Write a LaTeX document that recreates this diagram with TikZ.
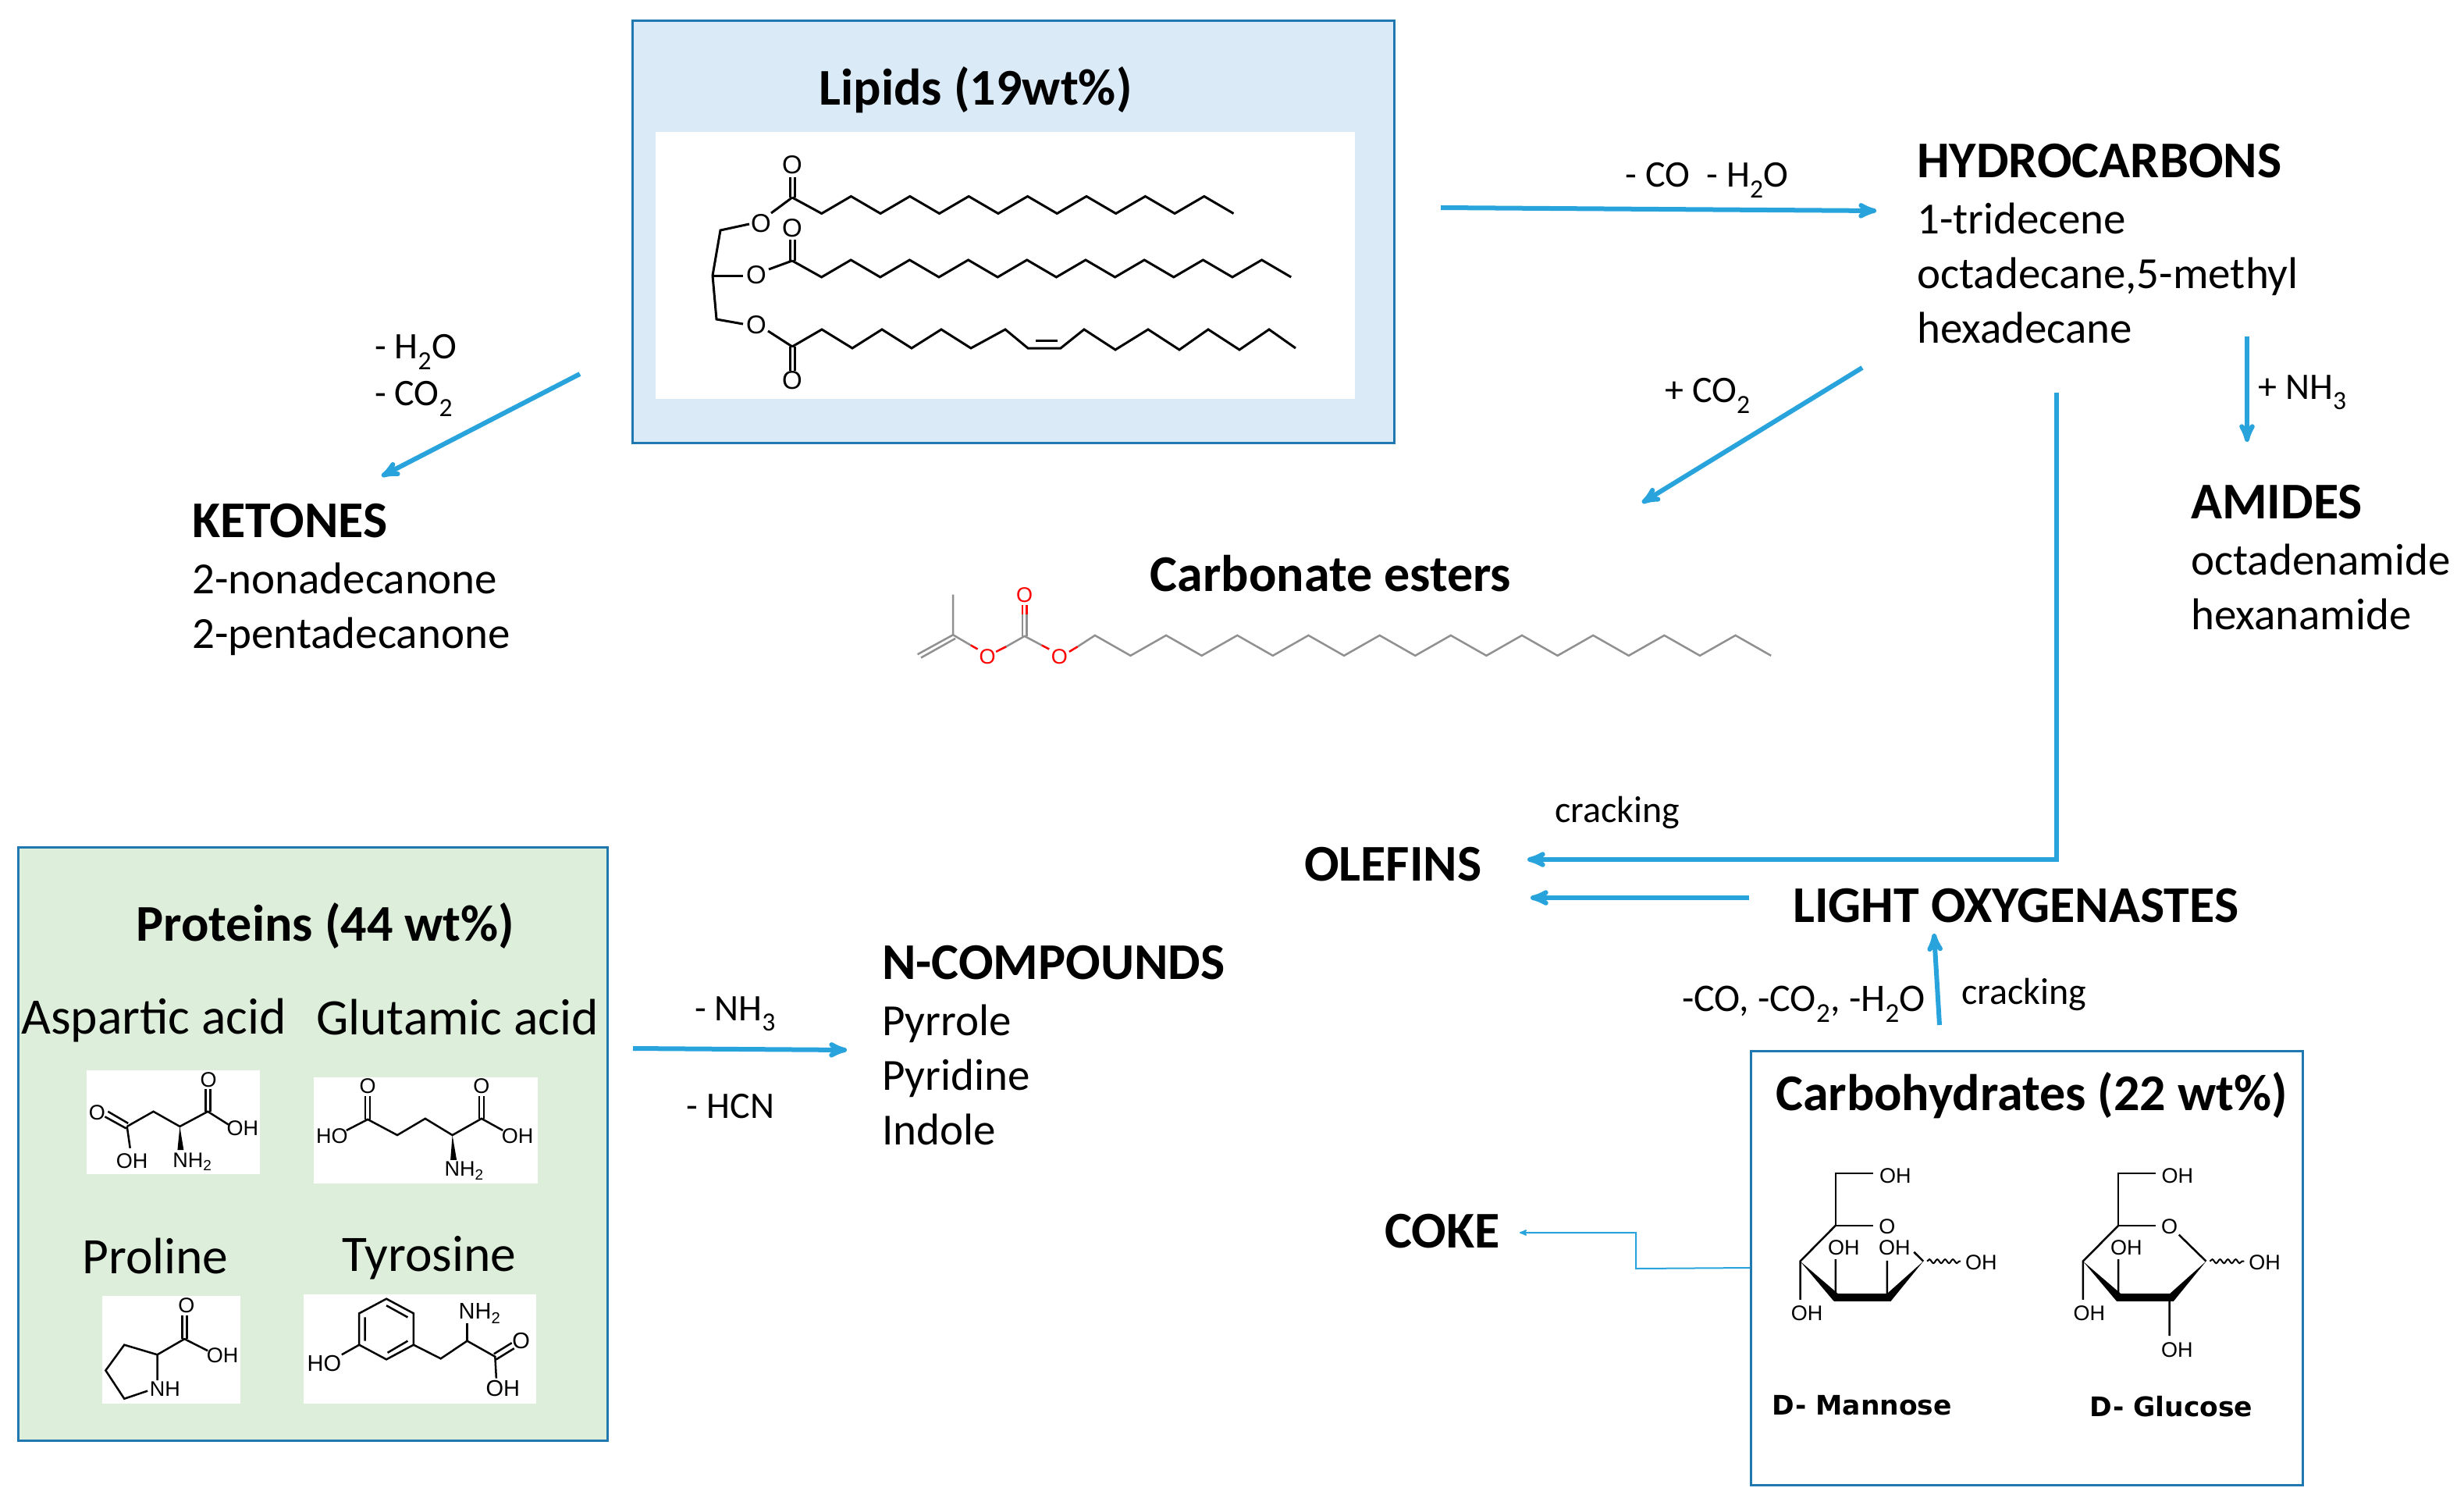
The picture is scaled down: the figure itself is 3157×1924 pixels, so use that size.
\documentclass[tikz,border=0pt]{standalone}
\usepackage{fontspec}
\setmainfont{Carlito}
\newfontfamily\atomfamily{Liberation Sans}
\newfontfamily\sugarfamily{DejaVu Sans}
\usetikzlibrary{arrows,calc,positioning,decorations.pathmorphing}
\definecolor{arrowblue}{HTML}{29A3DC}
\definecolor{boxblue}{HTML}{1F78B0}
\definecolor{lipidfill}{HTML}{DAEAF7}
\definecolor{proteinfill}{HTML}{DDEFDB}
\definecolor{estergray}{HTML}{909090}
\tikzset{
>=stealth',
flow/.style={draw=arrowblue, line width=6pt, ->},
thinflow/.style={draw=arrowblue, line width=2pt, ->},
feedbox/.style={draw=boxblue, line width=3pt, inner sep=0pt},
panel/.style={fill=white, inner sep=0pt},
compound/.style={align=left, anchor=north west, inner sep=0pt, font=\fontsize{57}{70}\selectfont},
headline/.style={inner sep=0pt, font=\fontsize{66}{72}\selectfont\bfseries},
acid/.style={inner sep=0pt, font=\fontsize{65.5}{72}\selectfont},
step label/.style={inner sep=0pt, font=\fontsize{48}{58}\selectfont},
bond/.style={draw=black, line width=2.5pt},
atom/.style={inner sep=0pt, font=\fontsize{27}{30}\selectfont\atomfamily},
esterbond/.style={draw=estergray, line width=2.5pt},
redatom/.style={inner sep=0pt, text=red, font=\fontsize{27}{30}\selectfont\atomfamily},
sugarname/.style={inner sep=0pt, font=\fontsize{34.5}{40}\selectfont\sugarfamily\bfseries},
}
\begin{document}
\begin{tikzpicture}[x=1pt,y=-1pt]
\useasboundingbox (0,0) rectangle (3157,1924);

% feed boxes
\node[feedbox, fill=lipidfill, minimum width=976pt, minimum height=540pt] (lipbox) at (1298,297) {};
\node[panel, minimum width=896pt, minimum height=341pt] (lippanel) at (1288,340) {};
\node[feedbox, fill=proteinfill, minimum width=755pt, minimum height=760pt] (protbox) at (401,1465) {};
\node[feedbox, fill=white, minimum width=707pt, minimum height=556pt] (carbbox) at (2597,1624) {};

\node[headline] (liptitle) at (1250,115) {Lipids (19wt\%)};
\node[headline] (prottitle) at (417,1186) {Proteins (44 wt\%)};
\node[headline] (carbtitle) at (2603,1403) {Carbohydrates (22 wt\%)};

% products
\node[compound] (hydro) at (2456,184) {\fontsize{66}{70}\selectfont\textbf{HYDROCARBONS}\\[2pt]1-tridecene\\octadecane,5-methyl\\hexadecane};
\node[compound] (amides) at (2807,621) {\fontsize{66}{70}\selectfont\textbf{AMIDES}\\[2pt]octadenamide\\hexanamide};
\node[compound] (ketones) at (246,645) {\fontsize{66}{70}\selectfont\textbf{KETONES}\\[2pt]2-nonadecanone\\2-pentadecanone};
\node[compound] (ncomp) at (1130,1211) {\fontsize{66}{70}\selectfont\textbf{N-COMPOUNDS}\\[2pt]Pyrrole\\Pyridine\\Indole};
\node[headline] (esters) at (1705,735) {Carbonate esters};
\node[headline, anchor=west] (olefins) at (1671,1107) {OLEFINS};
\node[headline, anchor=west] (lightox) at (2297,1160) {LIGHT OXYGENASTES};
\node[headline, anchor=west] (coke) at (1774,1577) {COKE};

% free arrow ends
\coordinate (hcin) at (1846,266);
\coordinate (hcend) at (2404,270);
\coordinate (ketstart) at (743,479);
\coordinate (ketend) at (489,610);
\coordinate (eststart) at (2386,471);
\coordinate (estend) at (2104,644);
\coordinate (amstart) at (2879,431);
\coordinate (amend) at (2879,566);
\coordinate (olstart) at (2635,503);
\coordinate (olbend) at (2635,1101);
\coordinate (olend) at (1957,1101);
\coordinate (loxstart) at (2241,1150);
\coordinate (loxend) at (1961,1150);
\coordinate (upstart) at (2485,1313);
\coordinate (upend) at (2478,1196);
\coordinate (nstart) at (811,1343);
\coordinate (nend) at (1085,1345);
\coordinate (cokea) at (2096,1625);
\coordinate (cokeb) at (2096,1579);
\coordinate (cokeend) at (1947,1579);

\draw[flow] (hcin) -- (hcend);
\draw[flow] (ketstart) -- (ketend);
\draw[flow] (eststart) -- (estend);
\draw[flow] (amstart) -- (amend);
\draw[flow] (olstart) -- (olbend) -- (olend);
\draw[flow] (loxstart) -- (loxend);
\draw[flow] (upstart) -- (upend);
\draw[flow] (nstart) -- (nend);
\draw[thinflow] (carbbox.west) -- (cokea) -- (cokeb) -- (cokeend);

% step labels
\node[step label] (lbco) at (2187,231) {- CO\ \ - H\textsubscript{2}O};
\node[step label, anchor=west] (lbkh) at (480,451) {- H\textsubscript{2}O};
\node[step label, anchor=west] (lbkc) at (480,511) {- CO\textsubscript{2}};
\node[step label] (lbest) at (2188,507) {+ CO\textsubscript{2}};
\node[step label] (lbam) at (2950,503) {+ NH\textsubscript{3}};
\node[step label] (lbcr) at (2072,1041) {cracking};
\node[step label, font=\fontsize{50}{58}\selectfont] (lboff) at (2311,1286) {-CO, -CO\textsubscript{2}, -H\textsubscript{2}O};
\node[step label] (lbcr2) at (2593,1274) {cracking};
\node[step label] (lbnh) at (942,1299) {- NH\textsubscript{3}};
\node[step label] (lbhcn) at (936,1417) {- HCN};

% lipid molecule
\begin{scope}[bond/.append style={line width=3pt}, atom/.append style={font=\fontsize{33}{36}\selectfont\atomfamily}]
\node[atom] (lipo1) at (975,286) {O};
\node[atom] (lipo2) at (969,352) {O};
\node[atom] (lipo3) at (969,416) {O};
\node[atom] (lipo4) at (1015,211) {O};
\node[atom] (lipo5) at (1015,292) {O};
\node[atom] (lipo6) at (1015,487) {O};
\draw[bond] (960,287) -- (923,295) -- (913,353) -- (918,409) -- (952,415);
\draw[bond] (913,353) -- (952,353);
\draw[bond] (988,273) -- (1015,253);
\draw[bond] (985,345) -- (1015,334);
\draw[bond] (984,424) -- (1015,444);
\draw[bond] (1012,253) -- (1012,227) (1018,253) -- (1018,227);
\draw[bond] (1012,334) -- (1012,307) (1018,334) -- (1018,307);
\draw[bond] (1012,444) -- (1012,475) (1018,444) -- (1018,475);
\draw[bond] (1015,253) \foreach \i in {1,...,15} { -- ({1015+\i*37.7},{262.5-11*cos(180*\i)}) };
\draw[bond] (1015,334) \foreach \i in {1,...,17} { -- ({1015+\i*37.6},{344-11*cos(180*\i)}) };
\draw[bond] (1015,444) -- (1053,422) -- (1092,446) -- (1130,422) -- (1168,446) -- (1206,422) -- (1244,446) -- (1288,422) -- (1317,446) -- (1359,446) -- (1389,422) -- (1429,448) -- (1471,422) -- (1511,448) -- (1548,422) -- (1588,448) -- (1626,422) -- (1660,446);
\draw[bond] (1327,436) -- (1355,436);
\end{scope}

% carbonate ester molecule
\begin{scope}[x=.733pt,y=-.333pt,shift={(1150pt,-700pt)}]
\node[redatom] (esto1) at (157,425) {O};
\node[redatom] (esto2) at (283,425) {O};
\node[redatom] (esto3) at (222,187) {O};
\draw[esterbond] (35,415) -- (97,340) -- (97,185);
\draw[esterbond] (41,428) -- (101,354);
\draw[esterbond] (97,340) -- (128,380);
\draw[draw=red, line width=2.5pt] (128,380) -- (140,395) (172,405) -- (190,385);
\draw[esterbond] (190,385) -- (222,345) -- (252,380);
\draw[draw=red, line width=2.5pt] (252,380) -- (265,395) (300,405) -- (315,385);
\draw[esterbond] (218,345) -- (218,262) (226,345) -- (226,262);
\draw[draw=red, line width=2.5pt] (218,262) -- (218,225) (226,262) -- (226,225);
\draw[esterbond] (315,385) -- (345,342) \foreach \i in {1,...,19} { -- ({345+\i*62.2},{381-39*cos(180*\i)}) };
\end{scope}

% protein panels
\node[acid] (asptxt) at (197,1307) {Aspartic acid};
\node[acid] (glutxt) at (586,1303) {Glutamic acid};
\node[acid] (protxt) at (199,1609) {Proline};
\node[acid] (tyrtxt) at (550,1611) {Tyrosine};
\node[panel, minimum width=222pt, minimum height=133pt] (asppanel) at (222,1437) {};
\node[panel, minimum width=287pt, minimum height=136pt] (glupanel) at (545,1448) {};
\node[panel, minimum width=177pt, minimum height=138pt] (propanel) at (219,1729) {};
\node[panel, minimum width=298pt, minimum height=140pt] (tyrpanel) at (538,1728) {};

\begin{scope}[x=.4975pt,y=-.504pt,shift={(10pt,-1070pt)}]
% aspartic acid
\node[atom] (aspo1) at (230,705) {O};
\node[atom] (aspoh1) at (320,828) {OH};
\node[atom] (aspo2) at (517,622) {O};
\node[atom] (aspoh2) at (605,745) {OH};
\node[atom] (aspn) at (475,830) {NH\textsubscript{2}};
\draw[bond] (250,715) -- (305,745) (258,702) -- (310,732);
\draw[bond] (307,740) -- (315,795);
\draw[bond] (307,740) -- (375,702) -- (443,740) -- (515,702) -- (568,735);
\draw[bond] (510,702) -- (510,645) (522,702) -- (522,645);
\fill (443,740) -- (437,800) -- (453,800) -- cycle;
% glutamic acid
\node[atom] (gluo1) at (927,638) {O};
\node[atom] (gluho) at (835,765) {HO};
\node[atom] (gluo2) at (1220,638) {O};
\node[atom] (gluoh) at (1313,765) {OH};
\node[atom] (glun) at (1175,852) {NH\textsubscript{2}};
\draw[bond] (872,750) -- (927,722) -- (1003,762) -- (1075,720) -- (1145,762) -- (1220,720) -- (1275,750);
\draw[bond] (921,722) -- (921,662) (933,722) -- (933,662);
\draw[bond] (1214,720) -- (1214,662) (1226,720) -- (1226,662);
\fill (1145,762) -- (1140,825) -- (1156,825) -- cycle;
% proline
\node[atom] (proo) at (460,1195) {O};
\node[atom] (prooh) at (553,1322) {OH};
\node[atom] (pron) at (405,1408) {NH};
\draw[bond] (385,1385) -- (385,1320) -- (300,1295) -- (252,1360) -- (300,1432) -- (360,1412);
\draw[bond] (385,1320) -- (455,1280) -- (515,1310);
\draw[bond] (449,1280) -- (449,1220) (461,1280) -- (461,1220);
% tyrosine
\node[atom, font=\fontsize{29}{30}\selectfont\atomfamily] (tyrho) at (815,1342) {HO};
\node[atom, font=\fontsize{29}{30}\selectfont\atomfamily] (tyrn) at (1215,1215) {NH\textsubscript{2}};
\node[atom, font=\fontsize{29}{30}\selectfont\atomfamily] (tyro) at (1322,1285) {O};
\node[atom, font=\fontsize{29}{30}\selectfont\atomfamily] (tyroh) at (1275,1405) {OH};
\draw[bond] (975,1178) -- (1045,1215) -- (1045,1295) -- (975,1332) -- (905,1295) -- (905,1215) -- cycle;
\draw[bond] (975,1195) -- (1030,1225) (1030,1285) -- (978,1315) (920,1285) -- (920,1225);
\draw[bond] (905,1295) -- (860,1320);
\draw[bond] (1045,1295) -- (1115,1330) -- (1183,1285) -- (1255,1325) -- (1258,1380);
\draw[bond] (1183,1285) -- (1183,1240);
\draw[bond] (1252,1318) -- (1298,1290) (1258,1332) -- (1304,1304);
\end{scope}

% carbohydrate rings
\begin{scope}[x=.478pt,y=-.37pt,shift={(2230pt,-1330pt)}]
% mannose
\node[atom] (manoh1) at (415,475) {OH};
\node[atom] (mano) at (393,652) {O};
\node[atom] (manoh2) at (277,725) {OH};
\node[atom] (manoh3) at (413,725) {OH};
\node[atom] (manoh4) at (645,775) {OH};
\node[atom] (manoh5) at (178,952) {OH};
\draw[bond] (355,468) -- (255,468) -- (255,648) -- (355,648);
\draw[bond] (255,648) -- (160,772) -- (160,905);
\draw[bond] (255,765) -- (255,885) (393,770) -- (393,885) (465,740) -- (490,772);
\fill (160,772) -- (250,910) -- (262,885) -- cycle;
\fill (250,885) rectangle (403,910);
\fill (392,885) -- (403,910) -- (490,772) -- cycle;
\draw[line width=2pt, decorate, decoration={snake, amplitude=2.5pt, segment length=10pt}] (500,772) -- (590,772);
\node[sugarname] (mantxt) at (326,1272) {D- Mannose};
% glucose
\node[atom] (gluch1) at (1171,475) {OH};
\node[atom] (gluco) at (1150,652) {O};
\node[atom] (gluch2) at (1034,725) {OH};
\node[atom] (gluch3) at (1405,775) {OH};
\node[atom] (gluch4) at (935,952) {OH};
\node[atom] (gluch5) at (1170,1080) {OH};
\draw[bond] (1113,468) -- (1013,468) -- (1013,648) -- (1113,648);
\draw[bond] (1013,648) -- (918,772) -- (918,905);
\draw[bond] (1013,765) -- (1013,885) (1175,680) -- (1248,772) (1150,905) -- (1150,1030);
\fill (918,772) -- (1008,910) -- (1020,885) -- cycle;
\fill (1008,885) rectangle (1161,910);
\fill (1150,885) -- (1161,910) -- (1248,772) -- cycle;
\draw[line width=2pt, decorate, decoration={snake, amplitude=2.5pt, segment length=10pt}] (1258,772) -- (1350,772);
\node[sugarname] (glutxt2) at (1155,1275) {D- Glucose};
\end{scope}

\end{tikzpicture}
\end{document}
